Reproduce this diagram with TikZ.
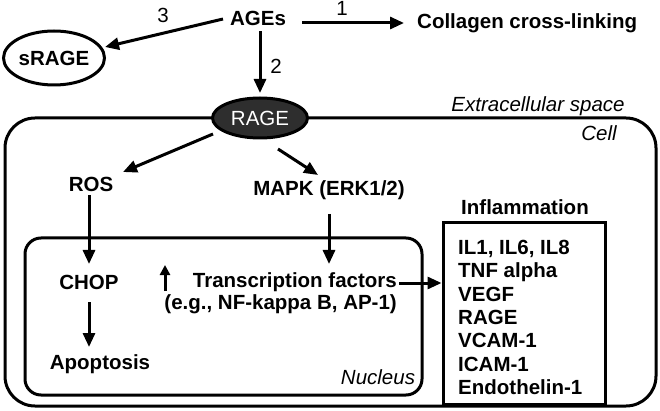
\documentclass[tikz,border=0pt]{standalone}
\usepackage{fontspec}
\setmainfont{Liberation Sans}
\usetikzlibrary{arrows.meta,calc,shapes.geometric}
\begin{document}
\begin{tikzpicture}[x=1pt,y=-1pt,
 every node/.style={inner sep=0pt},
 bold/.style={font=\fontsize{20.5}{22.5}\selectfont\bfseries},
 lab/.style={font=\fontsize{20.5}{22.5}\selectfont},
 ital/.style={font=\fontsize{20.5}{22.5}\selectfont\itshape},
 arr/.style={line width=3pt,-{Triangle[length=14pt,width=12pt]}},
 smallarr/.style={line width=3pt,-{Triangle[length=10pt,width=10pt]}},
 box/.style={draw,line width=3pt}]
\useasboundingbox (0,0) rectangle (660,411);
% compartments
\node[box,rounded corners=30pt,minimum width=651pt,minimum height=288pt] (cell) at (330.5,262) {};
\node[box,rounded corners=16pt,minimum width=397pt,minimum height=157pt] (nucleus) at (223.5,316.5) {};
\node[box,minimum width=162pt,minimum height=181pt] (infbox) at (524,313.5) {};
% top
\node[bold] (ages) at (258,18) {AGEs};
\node[bold,anchor=west] (coll) at (417,23) {Collagen cross-linking};
\node[draw,ellipse,line width=3pt,minimum width=101pt,minimum height=54pt,bold] (srage) at (54,58) {sRAGE};
\node[draw,ellipse,line width=3pt,fill=black!82,text=white,minimum width=95pt,minimum height=40pt,lab] (rage) at (260,118) {RAGE};
\coordinate (a1s) at (302,23);
\coordinate (a3s) at (223,19);
\coordinate (a3e) at (105,47);
\draw[arr] (a1s) -- (coll.west -| 404,0);
\draw[arr] (a3s) -- (a3e);
\draw[arr] (ages.south) ++(2,6) coordinate (a2s) -- (260,93) coordinate (a2e);
\node[lab] (n1) at (342,8) {1};
\node[lab] (n2) at (276,66) {2};
\node[lab] (n3) at (163,15) {3};
\node[ital] (extra) at (538,106) {Extracellular space};
\node[ital] (celllab) at (599,133) {Cell};
% inside cell
\node[bold] (ros) at (91,184) {ROS};
\node[bold] (mapk) at (329,190) {MAPK (ERK1/2)};
\coordinate (r1) at (213,134);
\coordinate (r2) at (278,149);
\draw[arr] (r1) -- (123,172) coordinate (r1e);
\draw[arr] (r2) -- (318,175) coordinate (r2e);
\node[bold] (chop) at (89,282) {CHOP};
\node[bold] (apop) at (100,364) {Apoptosis};
\draw[arr] (89,195) coordinate (rc1) -- (89,264) coordinate (rc2);
\draw[arr] (89,302) coordinate (ca1) -- (89,347) coordinate (ca2);
\draw[arr] (329,214) coordinate (m1) -- (329,264) coordinate (m2);
\node[bold,align=right,anchor=north east] (tf) at (397,272) {Transcription factors\\(e.g., NF-kappa B, AP-1)};
\coordinate (up1) at (165,291);
\coordinate (up2) at (165,265);
\draw[smallarr] (up1) -- (up2);
\draw[arr] (399,283) coordinate (tfa) -- (infbox.west |- 0,283);
\node[ital] (nuclab) at (378,377) {Nucleus};
% inflammation
\node[bold] (infl) at (525,207) {Inflammation};
\node[bold,align=left,anchor=north west,font=\fontsize{20.5}{23.3}\selectfont\bfseries] (list) at (458,240)
 {IL1, IL6, IL8\\TNF alpha\\VEGF\\RAGE\\VCAM-1\\ICAM-1\\Endothelin-1};
\end{tikzpicture}
\end{document}
